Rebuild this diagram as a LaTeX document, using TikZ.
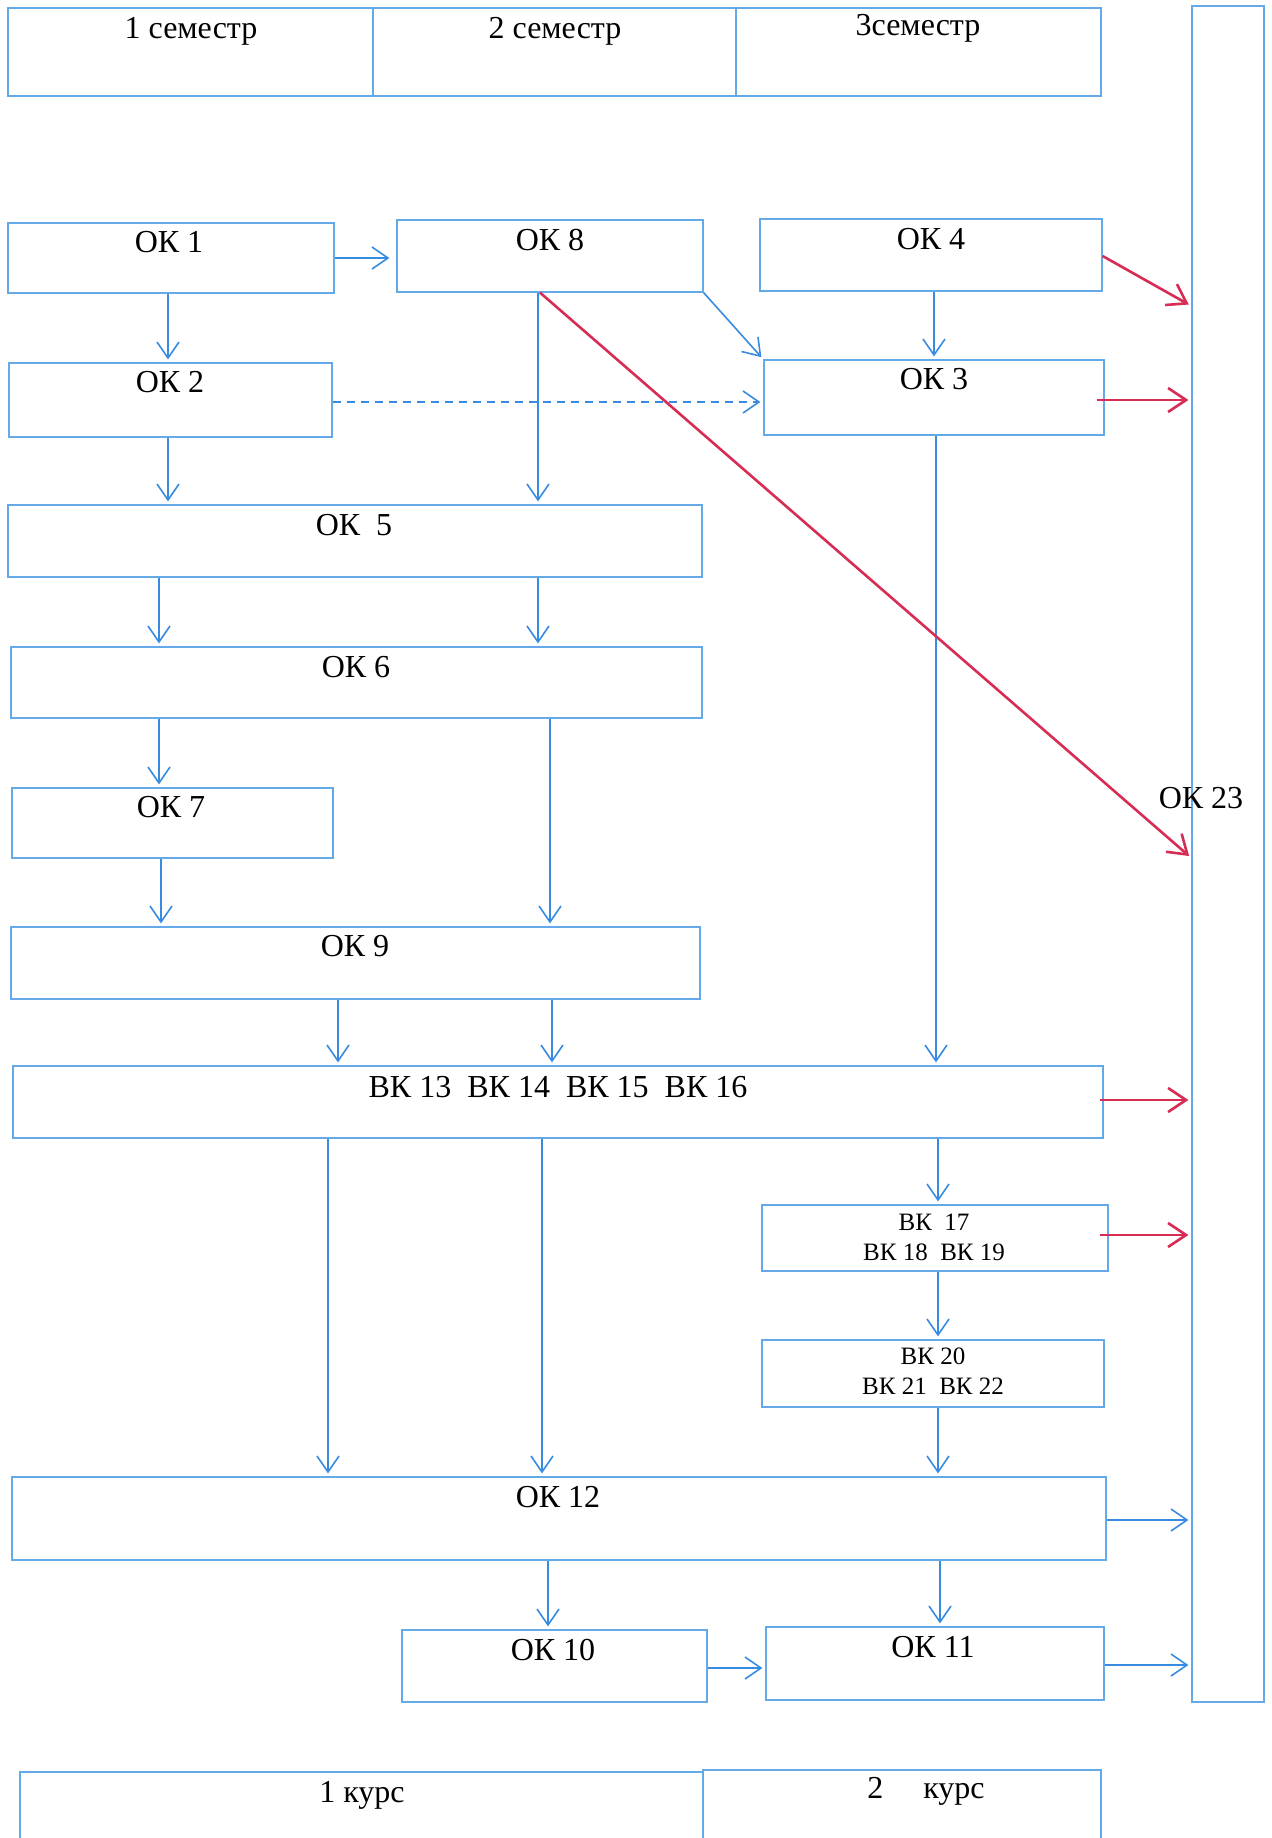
\documentclass[tikz,border=0pt]{standalone}
\usepackage{fontspec}
\setmainfont{Liberation Serif}
\usetikzlibrary{arrows.meta,fit,calc}
\definecolor{lblue}{RGB}{55,140,225}
\definecolor{bblue}{RGB}{100,170,232}
\definecolor{lred}{RGB}{215,45,85}
\tikzset{
 box/.style={draw=bblue, line width=0.6pt, inner sep=0pt},
 lbl/.style={inner sep=0pt, font=\fontsize{16}{19}\selectfont},
 slbl/.style={inner sep=0pt, font=\fontsize{12.5}{15}\selectfont, align=center},
 arr/.style={draw=lblue, line width=0.8pt, shorten >=1.5pt, -{Straight Barb[length=8pt,width=11pt,line width=0.8pt]}},
 rarr/.style={draw=lred, line width=1.3pt, shorten >=1.5pt, -{Straight Barb[length=9pt,width=12pt,line width=1.3pt]}},
 dsh/.style={dash pattern=on 4pt off 3pt},
}
\begin{document}
\begin{tikzpicture}[x=0.5pt,y=-0.5pt]
\clip (0,0) rectangle (1271,1838);
\fill[white] (0,0) rectangle (1271,1838);
% header
\node[box, fit={(8,8) (373,96)}] (sem1) {};
\node[box, fit={(373,8) (736,96)}] (sem2) {};
\node[box, fit={(736,8) (1101,96)}] (sem3) {};
\node[lbl] (ts1) at (191,31) {1 семестр};
\node[lbl] (ts2) at (555,31) {2 семестр};
\node[lbl] (ts3) at (918,28) {3семестр};
% OK 23
\node[box, fit={(1192,6) (1264,1702)}] (ok23) {};
\node[lbl] (t23) at (1201,798) {ОК 23};
% boxes
\node[box, fit={(8,223) (334,293)}] (ok1) {};
\node[box, fit={(397,220) (703,292)}] (ok8) {};
\node[box, fit={(760,219) (1102,291)}] (ok4) {};
\node[box, fit={(9,363) (332,437)}] (ok2) {};
\node[box, fit={(764,360) (1104,435)}] (ok3) {};
\node[box, fit={(8,505) (702,577)}] (ok5) {};
\node[box, fit={(11,647) (702,718)}] (ok6) {};
\node[box, fit={(12,788) (333,858)}] (ok7) {};
\node[box, fit={(11,927) (700,999)}] (ok9) {};
\node[box, fit={(13,1066) (1103,1138)}] (vk13) {};
\node[box, fit={(762,1205) (1108,1271)}] (vk17) {};
\node[box, fit={(762,1340) (1104,1407)}] (vk20) {};
\node[box, fit={(12,1477) (1106,1560)}] (ok12) {};
\node[box, fit={(402,1630) (707,1702)}] (ok10) {};
\node[box, fit={(766,1627) (1104,1700)}] (ok11) {};
% labels
\node[lbl] (t1) at (169,242) {ОК 1};
\node[lbl] (t8) at (550,240) {ОК 8};
\node[lbl] (t4) at (931,239) {ОК 4};
\node[lbl] (t2) at (170,382) {ОК 2};
\node[lbl] (t3) at (934,379) {ОК 3};
\node[lbl] (t5) at (354,525) {ОК\ \ 5};
\node[lbl] (t6) at (356,667) {ОК 6};
\node[lbl] (t7) at (171,807) {ОК 7};
\node[lbl] (t9) at (355,946) {ОК 9};
\node[lbl] (tvk13) at (558,1087) {ВК 13\ \ ВК 14\ \ ВК 15\ \ ВК 16};
\node[slbl] (tvk17) at (934,1237) {ВК\ \ 17\\ВК 18\ \ ВК 19};
\node[slbl] (tvk20) at (933,1371) {ВК 20\\ВК 21\ \ ВК 22};
\node[lbl] (t12) at (558,1497) {ОК 12};
\node[lbl] (t10) at (553,1650) {ОК 10};
\node[lbl] (t11) at (933,1647) {ОК 11};
% bottom
\node[box, fit={(20,1772) (703,1860)}] (k1) {};
\node[box, fit={(703,1770) (1101,1860)}] (k2) {};
\node[lbl] (tk1) at (362,1795) {1 курс};
\node[lbl] (tk2) at (926,1791) {2\quad\ курс};
% blue arrows
\draw[arr, shorten >=3.5pt] (ok1.east |- 0,258) -- (ok8.west |- 0,258);
\draw[arr] (168,0 |- ok1.south) -- (168,0 |- ok2.north);
\draw[arr] (ok8.south east) -- (ok3.north west);
\draw[arr] (934,0 |- ok4.south) -- (934,0 |- ok3.north);
\draw[arr, dsh] (ok2.east |- 0,402) -- (ok3.west |- 0,402);
\draw[arr] (168,0 |- ok2.south) -- (168,0 |- ok5.north);
\draw[arr] (538,0 |- ok8.south) -- (538,0 |- ok5.north);
\draw[arr] (159,0 |- ok5.south) -- (159,0 |- ok6.north);
\draw[arr] (538,0 |- ok5.south) -- (538,0 |- ok6.north);
\draw[arr] (159,0 |- ok6.south) -- (159,0 |- ok7.north);
\draw[arr] (550,0 |- ok6.south) -- (550,0 |- ok9.north);
\draw[arr] (161,0 |- ok7.south) -- (161,0 |- ok9.north);
\draw[arr] (338,0 |- ok9.south) -- (338,0 |- vk13.north);
\draw[arr] (552,0 |- ok9.south) -- (552,0 |- vk13.north);
\draw[arr] (936,0 |- ok3.south) -- (936,0 |- vk13.north);
\draw[arr] (328,0 |- vk13.south) -- (328,0 |- ok12.north);
\draw[arr] (542,0 |- vk13.south) -- (542,0 |- ok12.north);
\draw[arr] (938,0 |- vk13.south) -- (938,0 |- vk17.north);
\draw[arr] (938,0 |- vk17.south) -- (938,0 |- vk20.north);
\draw[arr] (938,0 |- vk20.south) -- (938,0 |- ok12.north);
\draw[arr] (548,0 |- ok12.south) -- (548,0 |- ok10.north);
\draw[arr] (940,0 |- ok12.south) -- (940,0 |- ok11.north);
\draw[arr] (ok10.east |- 0,1668) -- (ok11.west |- 0,1668);
\draw[arr] (ok12.east |- 0,1520) -- (ok23.west |- 0,1520);
\draw[arr] (ok11.east |- 0,1665) -- (ok23.west |- 0,1665);
% red arrows
\draw[rarr] (ok4.east |- 0,256) -- (ok23.west |- 0,306);
\draw[rarr] ($(ok3.east |- 0,400)+(-8,0)$) -- (ok23.west |- 0,400);
\draw[rarr] (540,0 |- ok8.south) -- (ok23.west |- 0,858);
\draw[rarr] ($(vk13.east |- 0,1100)+(-4,0)$) -- (ok23.west |- 0,1100);
\draw[rarr] ($(vk17.east |- 0,1235)+(-9,0)$) -- (ok23.west |- 0,1235);
\end{tikzpicture}
\end{document}
